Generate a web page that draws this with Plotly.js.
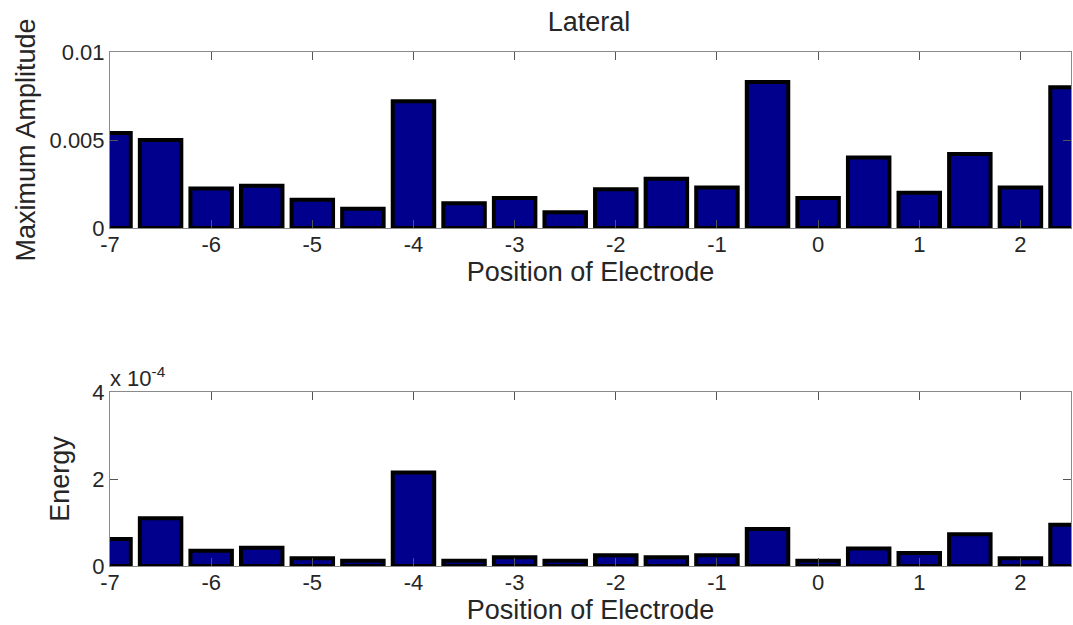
<!DOCTYPE html>
<html>
<head>
<meta charset="utf-8">
<script src="https://cdn.plot.ly/plotly-3.0.1.min.js"></script>
<style>html,body{margin:0;padding:0;background:#fff;}#chart{width:1073px;height:625px;}</style>
</head>
<body>
<div id="chart"></div>
<script>
// Electrode positions
const positions = [-7, -6.5, -6, -5.5, -5, -4.5, -4, -3.5, -3, -2.5, -2, -1.5, -1, -0.5, 0, 0.5, 1, 1.5, 2, 2.5];
// Maximum amplitude per position
const maxAmplitude = [0.0054, 0.0050, 0.00225, 0.0024, 0.0016, 0.0011, 0.0072, 0.0014, 0.0017, 0.0009, 0.0022, 0.0028, 0.0023, 0.0083, 0.0017, 0.0040, 0.0020, 0.0042, 0.0023, 0.0080];
// Energy per position
const energy = [0.62e-4, 1.10e-4, 0.35e-4, 0.42e-4, 0.18e-4, 0.12e-4, 2.15e-4, 0.12e-4, 0.20e-4, 0.12e-4, 0.25e-4, 0.20e-4, 0.25e-4, 0.85e-4, 0.12e-4, 0.40e-4, 0.30e-4, 0.73e-4, 0.18e-4, 0.95e-4];
// Tick labels
const xTickVals = [-7, -6, -5, -4, -3, -2, -1, 0, 1, 2];
const xTickText = ['-7', '-6', '-5', '-4', '-3', '-2', '-1', '0', '1', '2'];
const ampTickVals = [0, 0.005, 0.01];
const ampTickText = ['0', '0.005', '0.01'];
const energyTickVals = [0, 2e-4, 4e-4];
const energyTickText = ['0', '2', '4'];

const FONT = 'Liberation Sans, Arial, sans-serif';
const TXT = '#262626';
const barStyle = {color: 'rgb(0,0,140)', line: {color: '#000', width: 4}};

const traces = [
  {type: 'bar', x: positions, y: maxAmplitude, width: 0.41, marker: barStyle, xaxis: 'x', yaxis: 'y', hoverinfo: 'x+y'},
  {type: 'bar', x: positions, y: energy, width: 0.41, marker: barStyle, xaxis: 'x2', yaxis: 'y2', hoverinfo: 'x+y'}
];

const axBase = {
  showline: true, linecolor: '#8a8a8a', linewidth: 1, mirror: 'ticks',
  ticks: 'inside', ticklen: 8, tickcolor: '#555', tickwidth: 1,
  showgrid: false, zeroline: false, automargin: false,
  tickfont: {family: FONT, size: 22, color: TXT}
};
const titleFont = {family: FONT, size: 27, color: TXT};

const layout = {
  width: 1073, height: 625,
  margin: {l: 0, r: 0, t: 0, b: 0},
  paper_bgcolor: '#fff', plot_bgcolor: '#fff',
  showlegend: false,
  font: {family: FONT, color: TXT},
  title: {text: 'Lateral', x: 0.549, xanchor: 'center', y: 1 - 22/625, yanchor: 'middle', font: titleFont},
  xaxis: Object.assign({}, axBase, {
    domain: [110/1073, 1071/1073], range: [-7, 2.5], anchor: 'y',
    tickvals: xTickVals, ticktext: xTickText, ticklabelstandoff: -3,
    title: {text: 'Position of Electrode', font: titleFont, standoff: 5}
  }),
  yaxis: Object.assign({}, axBase, {
    domain: [1 - 228/625, 1 - 52/625], range: [0, 0.01], anchor: 'x',
    tickvals: ampTickVals, ticktext: ampTickText,
    title: {text: 'Maximum Amplitude', font: titleFont, standoff: 6}
  }),
  xaxis2: Object.assign({}, axBase, {
    domain: [110/1073, 1071/1073], range: [-7, 2.5], anchor: 'y2',
    tickvals: xTickVals, ticktext: xTickText, ticklabelstandoff: -3,
    title: {text: 'Position of Electrode', font: titleFont, standoff: 6}
  }),
  yaxis2: Object.assign({}, axBase, {
    domain: [1 - 566/625, 1 - 392/625], range: [0, 4e-4], anchor: 'x2',
    tickvals: energyTickVals, ticktext: energyTickText,
    title: {text: 'Energy', font: titleFont, standoff: 14}
  }),
  annotations: [
    {xref: 'paper', yref: 'paper', x: 108/1073, y: 1 - 377/625, xanchor: 'left', yanchor: 'middle',
     text: 'x 10<sup>-4</sup>', showarrow: false, font: {family: FONT, size: 22, color: TXT}}
  ]
};

Plotly.newPlot('chart', traces, layout, {displayModeBar: false, staticPlot: true});
</script>
</body>
</html>
